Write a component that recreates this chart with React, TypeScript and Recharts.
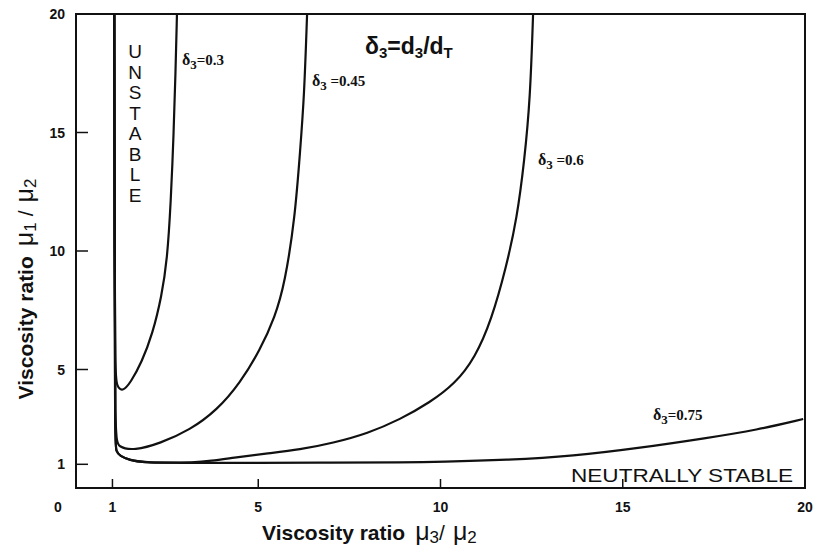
import { LineChart, Line, XAxis, YAxis, ReferenceArea } from "recharts";

// axis ticks
const xTicks = [0, 1, 5, 10, 15, 20];
const yTicks = [0, 1, 5, 10, 15, 20];

// stability curves (x = mu3/mu2, y = mu1/mu2)
const delta030 = [
  { x: 1.05, y: 20 }, { x: 1.06, y: 10 }, { x: 1.07, y: 4.8 },
  { x: 1.12, y: 4.3 }, { x: 1.27, y: 4.05 }, { x: 1.5, y: 4.45 },
  { x: 1.8, y: 5.3 }, { x: 2.1, y: 6.5 }, { x: 2.35, y: 8.1 },
  { x: 2.5, y: 9.6 }, { x: 2.6, y: 12 }, { x: 2.68, y: 15 },
  { x: 2.73, y: 17.5 }, { x: 2.77, y: 20 },
];

const delta045 = [
  { x: 1.05, y: 20 }, { x: 1.06, y: 10 }, { x: 1.07, y: 2.1 },
  { x: 1.15, y: 1.72 }, { x: 1.6, y: 1.58 }, { x: 2.3, y: 1.88 },
  { x: 3.13, y: 2.45 }, { x: 3.87, y: 3.29 }, { x: 4.5, y: 4.43 },
  { x: 5.05, y: 5.82 }, { x: 5.46, y: 7.22 }, { x: 5.73, y: 8.65 },
  { x: 6.01, y: 11.43 }, { x: 6.15, y: 14.26 }, { x: 6.26, y: 16.5 },
  { x: 6.34, y: 20 },
];

const delta060 = [
  { x: 1.05, y: 20 }, { x: 1.06, y: 10 }, { x: 1.07, y: 1.9 },
  { x: 1.1, y: 1.55 }, { x: 1.2, y: 1.35 }, { x: 1.48, y: 1.17 },
  { x: 1.84, y: 1.08 }, { x: 2.5, y: 1.06 }, { x: 3.2, y: 1.08 },
  { x: 3.7, y: 1.14 }, { x: 4.3, y: 1.27 }, { x: 5.2, y: 1.45 },
  { x: 6.15, y: 1.62 }, { x: 7.05, y: 1.9 }, { x: 8.0, y: 2.3 },
  { x: 8.9, y: 2.9 }, { x: 9.7, y: 3.6 }, { x: 10.4, y: 4.4 },
  { x: 10.95, y: 5.5 }, { x: 11.4, y: 7.1 }, { x: 11.8, y: 9.3 },
  { x: 12.1, y: 11.4 }, { x: 12.3, y: 13.8 }, { x: 12.46, y: 16.4 },
  { x: 12.54, y: 20 },
];

const delta075 = [
  { x: 1.05, y: 20 }, { x: 1.06, y: 10 }, { x: 1.07, y: 1.9 },
  { x: 1.1, y: 1.55 }, { x: 1.2, y: 1.35 }, { x: 1.48, y: 1.17 },
  { x: 1.84, y: 1.08 }, { x: 3, y: 1.06 }, { x: 5, y: 1.06 },
  { x: 7, y: 1.07 }, { x: 9, y: 1.08 }, { x: 10, y: 1.1 },
  { x: 11.82, y: 1.18 }, { x: 13.64, y: 1.35 }, { x: 15.47, y: 1.69 },
  { x: 17.31, y: 2.11 }, { x: 18.68, y: 2.45 }, { x: 19.95, y: 2.91 },
];

const series = [delta030, delta045, delta060, delta075];

const tickFont = {
  fontFamily: "Liberation Sans, Arial, sans-serif",
  fontWeight: 700,
  fontSize: 14,
  fill: "#111",
};

function XTick({ x, y, payload }: any) {
  const v = payload.value;
  if (v === 0) {
    return (
      <text x={x - 18} y={y + 24} textAnchor="middle" {...tickFont}>
        0
      </text>
    );
  }
  return (
    <g>
      {v !== 20 && <line x1={x} x2={x} y1={y} y2={y - 9} stroke="#111" strokeWidth={1.5} />}
      <text x={x} y={y + 24} textAnchor="middle" {...tickFont}>
        {v}
      </text>
    </g>
  );
}

function YTick({ x, y, payload }: any) {
  const v = payload.value;
  if (v === 0) return null;
  return (
    <g>
      {v !== 20 && <line x1={x} x2={x + 12} y1={y} y2={y} stroke="#111" strokeWidth={1.5} />}
      <text x={x - 11} y={y + 5} textAnchor="end" {...tickFont}>
        {v}
      </text>
    </g>
  );
}

const serif = "Liberation Serif, Times New Roman, serif";
const sans = "Liberation Sans, Arial, sans-serif";

function DeltaLabel({ x, y, value, gap }: { x: number; y: number; value: string; gap?: boolean }) {
  return (
    <text x={x} y={y} fontFamily={serif} fontWeight={700} fontSize={15} fill="#111">
      <tspan fontSize={16}>δ</tspan>
      <tspan dy={4} fontSize={13}>3</tspan>
      <tspan dy={-4}>{(gap ? " " : "") + "=" + value}</tspan>
    </text>
  );
}

const unstable = "UNSTABLE".split("");

export default function App() {
  return (
    <div style={{ position: "absolute", left: 0, top: 0, width: 815, height: 550, background: "#fff" }}>
      <LineChart
        width={815}
        height={550}
        margin={{ top: 14, right: 10, bottom: 32, left: 16 }}
      >
        <XAxis
          type="number"
          dataKey="x"
          domain={[0, 20]}
          ticks={xTicks}
          allowDataOverflow
          tickSize={0}
          tickMargin={0}
          tickLine={false}
          tick={<XTick />}
          height={30}
          axisLine={{ stroke: "#111", strokeWidth: 2 }}
        />
        <YAxis
          type="number"
          dataKey="y"
          domain={[0, 20]}
          ticks={yTicks}
          allowDataOverflow
          tickSize={0}
          tickMargin={0}
          tickLine={false}
          tick={<YTick />}
          width={60}
          axisLine={{ stroke: "#111", strokeWidth: 2 }}
        />
        <ReferenceArea x1={0} x2={20} y1={0} y2={20} fill="none" stroke="#111" strokeWidth={2} />
        {series.map((d, i) => (
          <Line
            key={i}
            data={d}
            dataKey="y"
            type="basis"
            stroke="#111"
            strokeWidth={2.2}
            dot={false}
            isAnimationActive={false}
          />
        ))}
      </LineChart>

      <svg
        width={815}
        height={550}
        style={{ position: "absolute", left: 0, top: 0, pointerEvents: "none" }}
      >
        <DeltaLabel x={182} y={65} value="0.3" />
        <DeltaLabel x={312} y={86} value="0.45" gap />
        <DeltaLabel x={538} y={165} value="0.6" gap />
        <DeltaLabel x={653} y={420} value="0.75" />

        <text x={365} y={54} fontFamily={sans} fontWeight={700} fontSize={23} fill="#111">
          <tspan>δ</tspan>
          <tspan dy={4} fontSize={15}>3</tspan>
          <tspan dy={-4}>=d</tspan>
          <tspan dy={4} fontSize={15}>3</tspan>
          <tspan dy={-4}>/d</tspan>
          <tspan dy={4} fontSize={15}>T</tspan>
        </text>

        {unstable.map((ch, i) => (
          <text
            key={i}
            x={135}
            y={58 + i * 20.5}
            textAnchor="middle"
            fontFamily={sans}
            fontSize={19}
            fill="#111"
          >
            {ch}
          </text>
        ))}

        <text
          x={571}
          y={482}
          fontFamily={sans}
          fontSize={19}
          fill="#111"
          textLength={222}
          lengthAdjust="spacingAndGlyphs"
        >
          NEUTRALLY STABLE
        </text>

        <text x={262} y={540} fontFamily={sans} fill="#111">
          <tspan fontWeight={700} fontSize={21}>Viscosity ratio</tspan>
          <tspan dx={10} fontSize={25}>μ</tspan>
          <tspan dy={3} fontSize={17}>3</tspan>
          <tspan dy={-3} fontSize={21}>/</tspan>
          <tspan dx={8} fontSize={25}>μ</tspan>
          <tspan dy={3} fontSize={17}>2</tspan>
        </text>

        <text
          transform="translate(33, 289) rotate(-90)"
          textAnchor="middle"
          fontFamily={sans}
          fill="#111"
        >
          <tspan fontWeight={700} fontSize={21}>Viscosity ratio</tspan>
          <tspan dx={10} fontSize={25}>μ</tspan>
          <tspan dy={3} fontSize={17}>1</tspan>
          <tspan dy={-3} dx={6} fontSize={21}>/</tspan>
          <tspan dx={8} fontSize={25}>μ</tspan>
          <tspan dy={3} fontSize={17}>2</tspan>
        </text>
      </svg>
    </div>
  );
}
